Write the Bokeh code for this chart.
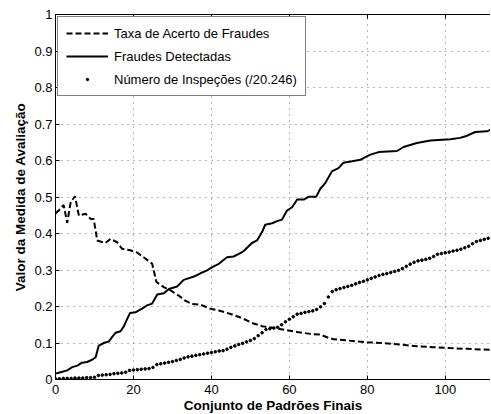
from bokeh.plotting import figure
from bokeh.models import (LinearAxis, FixedTicker, CustomJSTickFormatter, Range1d, Legend, LegendItem)
from bokeh.embed import file_html
from bokeh.resources import INLINE

# --- data ---
taxa_x = [0, 1, 2.1, 3, 3.9, 5, 6, 7.7, 9, 9.8, 10.7, 11.5, 12.8, 14.1, 15.8, 17.1, 19.2, 20.9,
          22.6, 24.4, 24.8, 25.9, 27.8, 29.5, 31.6, 33.3, 35, 37.2, 39.7, 41.9, 43.6, 45.3, 47.9,
          50.4, 53, 56, 59.8, 62, 65.4, 67.9, 70.1, 71.4, 74.8, 77.8, 79.9, 84.2, 88.5, 92.7, 97,
          101.3, 105.6, 112]
taxa_y = [0.455, 0.465, 0.478, 0.429, 0.486, 0.502, 0.449, 0.454, 0.44, 0.44, 0.381, 0.378, 0.374,
          0.385, 0.376, 0.358, 0.354, 0.348, 0.335, 0.321, 0.317, 0.267, 0.253, 0.244, 0.23, 0.216,
          0.207, 0.205, 0.194, 0.189, 0.184, 0.178, 0.168, 0.155, 0.146, 0.141, 0.134, 0.13, 0.125,
          0.123, 0.114, 0.11, 0.107, 0.104, 0.102, 0.0995, 0.096, 0.091, 0.0886, 0.086, 0.084, 0.081]

fraudes_x = [0, 1.3, 3, 4.3, 5.6, 6.8, 8.1, 9.4, 10.3, 11.1, 12.4, 13.7, 14.5, 15.4, 16.7, 17.5,
             18.4, 19.1, 20.5, 22.2, 23.5, 24.8, 26.1, 27.8, 29.1, 31.2, 32.9, 35.5, 37.2, 38.9,
             40.2, 41.9, 44, 45.7, 47.4, 48.3, 50.4, 51.7, 53, 53.8, 55.6, 56.8, 58.1, 59.4, 60.7,
             62, 63.7, 65, 66.9, 67.9, 69.2, 70.9, 72.6, 73.9, 76.1, 78.2, 79.5, 80.8, 82.9, 87.6,
             89.3, 92.7, 96.2, 101.3, 103.8, 105.6, 107.7, 110.7, 112]
fraudes_y = [0.016, 0.02, 0.025, 0.034, 0.038, 0.046, 0.048, 0.054, 0.061, 0.093, 0.1, 0.104, 0.116,
             0.128, 0.132, 0.145, 0.166, 0.182, 0.184, 0.194, 0.203, 0.208, 0.233, 0.236, 0.248,
             0.255, 0.273, 0.282, 0.291, 0.299, 0.308, 0.317, 0.335, 0.337, 0.346, 0.352, 0.374,
             0.381, 0.404, 0.424, 0.428, 0.434, 0.438, 0.463, 0.472, 0.493, 0.493, 0.501, 0.501,
             0.522, 0.538, 0.57, 0.579, 0.594, 0.598, 0.602, 0.609, 0.616, 0.623, 0.626, 0.637,
             0.648, 0.655, 0.658, 0.662, 0.668, 0.678, 0.68, 0.686]

insp_x = list(range(0, 113))
insp_y = [0.002, 0.002, 0.003, 0.003, 0.003, 0.004, 0.004, 0.004, 0.005, 0.005, 0.006,
          0.011, 0.012, 0.013, 0.014, 0.016, 0.017, 0.018, 0.020, 0.025, 0.026,
          0.027, 0.028, 0.029, 0.030, 0.033, 0.041, 0.043, 0.045, 0.047, 0.049,
          0.052, 0.055, 0.059, 0.062, 0.064, 0.066, 0.068, 0.070, 0.072, 0.074,
          0.076, 0.078, 0.079, 0.083, 0.088, 0.092, 0.096, 0.099, 0.103, 0.107,
          0.112, 0.120, 0.128, 0.137, 0.139, 0.141, 0.143, 0.150, 0.158, 0.165,
          0.172, 0.179, 0.181, 0.184, 0.186, 0.188, 0.192, 0.199, 0.208, 0.226,
          0.241, 0.246, 0.249, 0.252, 0.255, 0.258, 0.262, 0.266, 0.269, 0.273,
          0.277, 0.281, 0.285, 0.288, 0.290, 0.293, 0.296, 0.299, 0.304, 0.310,
          0.316, 0.321, 0.325, 0.327, 0.329, 0.332, 0.337, 0.343, 0.345, 0.347,
          0.349, 0.352, 0.354, 0.357, 0.361, 0.365, 0.372, 0.378, 0.381, 0.384,
          0.387, 0.390]

labels = ["Taxa de Acerto de Fraudes", "Fraudes Detectadas", "Número de Inspeções (/20.246)"]
x_ticks = [0, 20, 40, 60, 80, 100]
y_ticks = [0, 0.1, 0.2, 0.3, 0.4, 0.5, 0.6, 0.7, 0.8, 0.9, 1]
x_title = "Conjunto de Padrões Finais"
y_title = "Valor da Medida de Avaliação"

FONT = "Liberation Sans"

p = figure(frame_width=435, frame_height=365, output_backend="svg", toolbar_location=None,
           x_range=Range1d(0, 111.6), y_range=Range1d(0, 1),
           min_border_left=55, min_border_top=14, min_border_right=0, min_border_bottom=0,
           x_axis_label=x_title, y_axis_label=y_title)
p.outline_line_color = None
p.background_fill_color = "white"
p.border_fill_color = "white"

for ax in (p.xaxis[0], p.yaxis[0]):
    ax.major_tick_in = 4
    ax.major_tick_out = 0
    ax.minor_tick_in = 0
    ax.minor_tick_out = 0
    ax.axis_line_color = "black"
    ax.major_tick_line_color = "black"
    ax.major_label_text_font = FONT
    ax.major_label_text_font_size = "13px"
    ax.major_label_text_color = "black"
    ax.axis_label_text_font = FONT
    ax.axis_label_text_font_size = "13.5px"
    ax.axis_label_text_font_style = "bold"
    ax.axis_label_text_color = "black"

p.xaxis[0].major_label_standoff = 5
p.xaxis[0].axis_label_standoff = 1
p.yaxis[0].major_label_standoff = 3
p.yaxis[0].axis_label_standoff = 3

p.xaxis[0].ticker = FixedTicker(ticks=x_ticks)
p.yaxis[0].ticker = FixedTicker(ticks=y_ticks)
p.yaxis[0].formatter = CustomJSTickFormatter(code="return String(Math.round(tick*10)/10);")

top = LinearAxis(ticker=FixedTicker(ticks=x_ticks), major_label_text_font_size="1px",
                 major_label_text_color=None,
                 major_tick_in=4, major_tick_out=0, minor_tick_in=0, minor_tick_out=0,
                 major_label_standoff=0, axis_line_color="black", major_tick_line_color="black")
p.add_layout(top, "above")

p.xgrid.ticker = FixedTicker(ticks=[20, 40, 60, 80, 100])
p.ygrid.ticker = FixedTicker(ticks=[0.1, 0.2, 0.3, 0.4, 0.5, 0.6, 0.7, 0.8, 0.9])
for g in (p.xgrid[0], p.ygrid[0]):
    g.grid_line_color = "#6e6e6e"
    g.grid_line_dash = "1 5"
    g.grid_line_width = 1

r1 = p.line(taxa_x, taxa_y, line_color="black", line_width=2, line_dash="6 3")
r2 = p.line(fraudes_x, fraudes_y, line_color="black", line_width=2)
r3 = p.scatter(insp_x, insp_y, marker="circle", size=2.6, fill_color="black", line_color="black")

legend = Legend(items=[LegendItem(label=labels[0], renderers=[r1]),
                       LegendItem(label=labels[1], renderers=[r2]),
                       LegendItem(label=labels[2], renderers=[r3])],
                location="top_left")
legend.margin = 2
legend.padding = 8
legend.spacing = 7
legend.glyph_width = 42
legend.glyph_height = 6
legend.label_height = 16
legend.label_standoff = 6
legend.label_text_font = FONT
legend.label_text_font_size = "13px"
legend.label_text_color = "black"
legend.border_line_color = "black"
legend.border_line_width = 1
legend.background_fill_color = "white"
legend.background_fill_alpha = 1
p.add_layout(legend)

open("out.html", "w").write(file_html(p, INLINE))
